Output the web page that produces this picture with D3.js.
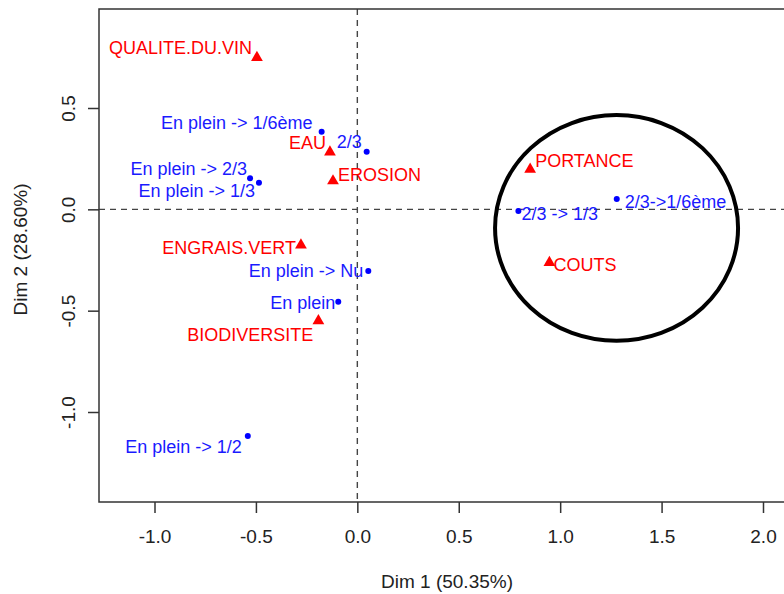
<!DOCTYPE html>
<html>
<head>
<meta charset="utf-8">
<script src="https://cdn.jsdelivr.net/npm/d3@7"></script>
<style>
  html, body { margin: 0; padding: 0; background: #fff; }
  svg { display: block; font-family: "Liberation Sans", Arial, sans-serif; }
</style>
</head>
<body>
<svg id="chart" width="784" height="594"></svg>
<script>
// ---- Data ----
const varNames = ["QUALITE.DU.VIN", "EAU", "EROSION", "ENGRAIS.VERT", "BIODIVERSITE", "PORTANCE", "COUTS"];
const varDim1  = [-0.495, -0.135, -0.120, -0.278, -0.192, 0.852, 0.947];
const varDim2  = [0.749, 0.283, 0.140, -0.176, -0.550, 0.197, -0.263];

const indNames = ["En plein -> 1/6ème", "2/3", "En plein -> 2/3", "En plein -> 1/3", "En plein -> Nu", "En plein", "En plein -> 1/2", "2/3 -> 1/3", "2/3->1/6ème"];
const indDim1  = [-0.176, 0.046, -0.529, -0.485, 0.054, -0.094, -0.540, 0.794, 1.279];
const indDim2  = [0.383, 0.284, 0.153, 0.131, -0.304, -0.456, -1.118, -0.008, 0.051];

const xTicks = [-1.0, -0.5, 0.0, 0.5, 1.0, 1.5, 2.0];
const yTicks = [-1.0, -0.5, 0.0, 0.5];
const xTitle = "Dim 1 (50.35%)";
const yTitle = "Dim 2 (28.60%)";

// highlighted group (ellipse in data units): center x, center y, radius x, radius y
const ellipseData = [1.278, -0.092, 0.599, 0.557];

// ---- Label layout (anchor, dx px, dy px) ----
const varLabelLayout = [["end",-5,-10],["end",-4,-9],["start",5,-6],["end",-5,3],["end",-5,14],["start",5,-9],["start",4,2]];
const indLabelLayout = [["end",-9,-9],["end",-5,-10],["end",-3,-10],["end",-4,8],["end",-5,0],["end",-3,1],["end",-6,11],["start",3,3],["start",8,3]];

// ---- Layout ----
const plotLeft = 99, plotTop = 9, plotBottom = 502, plotRight = 800;
const x = d3.scaleLinear().domain([-1, 2]).range([154.5, 763]);
const y = d3.scaleLinear().domain([-1, 0.5]).range([412, 108]);

const svg = d3.select("#chart");
const fontSize = 18;
const axisFontSize = 19;

// dashed zero lines
svg.append("line")
  .attr("x1", x(0)).attr("x2", x(0)).attr("y1", plotTop).attr("y2", plotBottom)
  .attr("stroke", "#444").attr("stroke-width", 1.4).attr("stroke-dasharray", "6,5");
svg.append("line")
  .attr("x1", plotLeft).attr("x2", plotRight).attr("y1", y(0)).attr("y2", y(0))
  .attr("stroke", "#444").attr("stroke-width", 1.4).attr("stroke-dasharray", "6,5");

// frame
svg.append("rect")
  .attr("x", plotLeft).attr("y", plotTop)
  .attr("width", plotRight - plotLeft).attr("height", plotBottom - plotTop)
  .attr("fill", "none").attr("stroke", "#333").attr("stroke-width", 1.5);

// axes
const xAxis = d3.axisBottom(x).tickValues(xTicks).tickSize(11).tickPadding(17)
  .tickFormat(d => d.toFixed(1));
const gx = svg.append("g").attr("transform", `translate(0,${plotBottom})`).call(xAxis);
gx.select(".domain").remove();
gx.selectAll(".tick line").attr("stroke", "#333").attr("stroke-width", 1.5);
gx.selectAll(".tick text").attr("font-size", axisFontSize).attr("fill", "#222")
  .attr("font-family", "'Liberation Sans', Arial, sans-serif");

const yAxis = d3.axisLeft(y).tickValues(yTicks).tickSize(11).tickPadding(0)
  .tickFormat(d => d.toFixed(1));
const gy = svg.append("g").attr("transform", `translate(${plotLeft},0)`).call(yAxis);
gy.select(".domain").remove();
gy.selectAll(".tick line").attr("stroke", "#333").attr("stroke-width", 1.5);
gy.selectAll(".tick text")
  .attr("font-size", axisFontSize).attr("fill", "#222")
  .attr("font-family", "'Liberation Sans', Arial, sans-serif")
  .attr("x", null).attr("dy", null)
  .attr("text-anchor", "middle")
  .attr("transform", "translate(-31,0) rotate(-90)")
  .attr("dy", "0.35em");

// axis titles
svg.append("text").attr("x", 447).attr("y", 581)
  .attr("text-anchor", "middle").attr("dy", "0.35em")
  .attr("font-size", axisFontSize).attr("fill", "#222").text(xTitle);
svg.append("text")
  .attr("transform", `translate(20,${(plotTop + plotBottom) / 2 - 6}) rotate(-90)`)
  .attr("text-anchor", "middle").attr("dy", "0.35em")
  .attr("font-size", axisFontSize).attr("fill", "#222").text(yTitle);

// ellipse annotation
svg.append("ellipse")
  .attr("cx", x(ellipseData[0])).attr("cy", y(ellipseData[1]))
  .attr("rx", x(ellipseData[2]) - x(0)).attr("ry", y(0) - y(ellipseData[3]))
  .attr("fill", "none").attr("stroke", "#000").attr("stroke-width", 4);

// variables (red triangles)
const varData = varNames.map((n, i) => ({ name: n, d1: varDim1[i], d2: varDim2[i], lay: varLabelLayout[i] }));
const tri = d3.symbol().type(d3.symbolTriangle).size(60);
svg.append("g").selectAll("path").data(varData).join("path")
  .attr("d", tri)
  .attr("transform", d => `translate(${x(d.d1)},${y(d.d2)})`)
  .attr("fill", "#ff0000");
svg.append("g").selectAll("text").data(varData).join("text")
  .attr("x", d => x(d.d1) + d.lay[1]).attr("y", d => y(d.d2) + d.lay[2])
  .attr("dy", "0.35em").attr("text-anchor", d => d.lay[0])
  .attr("font-size", fontSize).attr("fill", "#ff0000").text(d => d.name);

// individuals (blue dots)
const indData = indNames.map((n, i) => ({ name: n, d1: indDim1[i], d2: indDim2[i], lay: indLabelLayout[i] }));
svg.append("g").selectAll("circle").data(indData).join("circle")
  .attr("cx", d => x(d.d1)).attr("cy", d => y(d.d2)).attr("r", 3)
  .attr("fill", "#0000ff");
svg.append("g").selectAll("text").data(indData).join("text")
  .attr("x", d => x(d.d1) + d.lay[1]).attr("y", d => y(d.d2) + d.lay[2])
  .attr("dy", "0.35em").attr("text-anchor", d => d.lay[0])
  .attr("font-size", fontSize).attr("fill", "#1a1aff").text(d => d.name);
</script>
</body>
</html>
